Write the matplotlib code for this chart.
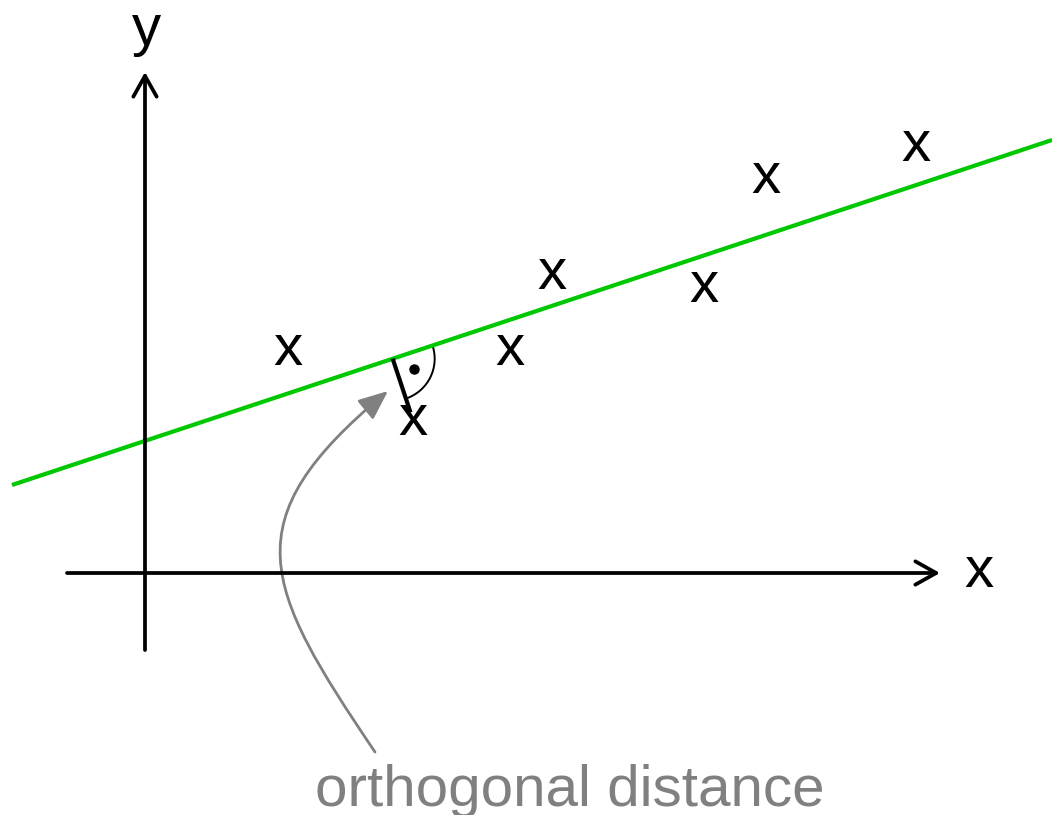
import numpy as np
import matplotlib
matplotlib.use("Agg")
import matplotlib.pyplot as plt
from matplotlib.patches import Arc, FancyArrowPatch
from matplotlib.path import Path

plt.rcParams['font.family'] = ['Liberation Sans', 'DejaVu Sans']

# Diagram in pixel coordinates (y grows downward)
W, H = 1052, 815

# data points drawn as "x" glyphs (glyph centres)
pts_x = [288, 552, 510, 704, 766, 916, 413]
pts_y = [350, 274, 350, 287, 178, 146, 420]
near_idx = 6  # the point with the orthogonal distance drawn

# fitted line end points
line_x = [12, 1052]
line_y = [485, 140]

# axes (origin and arrow ends)
origin = (145, 573)
xaxis_x = [67, 940]
yaxis_y = [650, 72]

label_txt = "orthogonal distance"

GREEN = '#00c800'
GREY = '#808080'
FS = 42
xh = 0.519 * FS * 100 / 72  # x-height in px

fig = plt.figure(figsize=(W / 100, H / 100), dpi=100)
ax = fig.add_axes([0, 0, 1, 1])
ax.set_xlim(0, W)
ax.set_ylim(H, 0)
ax.axis('off')

# axes with open arrow heads
arr = dict(arrowstyle='->,head_length=0.75,head_width=0.42', lw=2.7,
           color='black', mutation_scale=20, shrinkA=0, shrinkB=0)
ax.annotate('', xy=(xaxis_x[1], origin[1]), xytext=(xaxis_x[0], origin[1]), arrowprops=arr)
ax.annotate('', xy=(origin[0], yaxis_y[1]), xytext=(origin[0], yaxis_y[0]), arrowprops=arr)
ax.text(979, 572 + xh / 2, 'x', fontsize=FS, ha='center', va='baseline')
ax.text(147, 15 + xh, 'y', fontsize=FS, ha='center', va='baseline')

# regression line
ax.plot(line_x, line_y, color=GREEN, lw=3.0, solid_capstyle='butt')

# points
for px, py in zip(pts_x, pts_y):
    ax.text(px, py + xh / 2, 'x', fontsize=FS, ha='center', va='baseline')

# orthogonal distance: foot of perpendicular
p0 = np.array([line_x[0], line_y[0]], float)
u = np.array([line_x[1] - line_x[0], line_y[1] - line_y[0]], float)
u /= np.linalg.norm(u)
p = np.array([pts_x[near_idx], pts_y[near_idx]], float)
foot = p0 + np.dot(p - p0, u) * u
n = (p - foot) / np.linalg.norm(p - foot)
end = p - 8 * n
ax.plot([foot[0], end[0]], [foot[1], end[1]], color='black', lw=3.0, solid_capstyle='butt')

# right angle mark
a1 = np.degrees(np.arctan2(u[1], u[0]))
a2 = np.degrees(np.arctan2(n[1], n[0]))
ax.add_patch(Arc(foot, 84, 84, theta1=a1, theta2=a2, color='black', lw=1.4))
mid = np.radians((a1 + a2) / 2)
ax.plot(foot[0] + 24 * np.cos(mid), foot[1] + 24 * np.sin(mid), 'o',
        color='black', ms=6.5)

# curved grey arrow to the label
verts = [(375, 752), (263, 586), (231, 521), (388, 391)]
codes = [Path.MOVETO, Path.CURVE4, Path.CURVE4, Path.CURVE4]
ax.add_patch(FancyArrowPatch(path=Path(verts, codes),
                             arrowstyle='-|>,head_length=0.9,head_width=0.38',
                             mutation_scale=20, color=GREY, lw=2.0))
ax.text(570, 806, label_txt, fontsize=FS, color=GREY, ha='center', va='baseline')

fig.savefig('out.png', dpi=100)
